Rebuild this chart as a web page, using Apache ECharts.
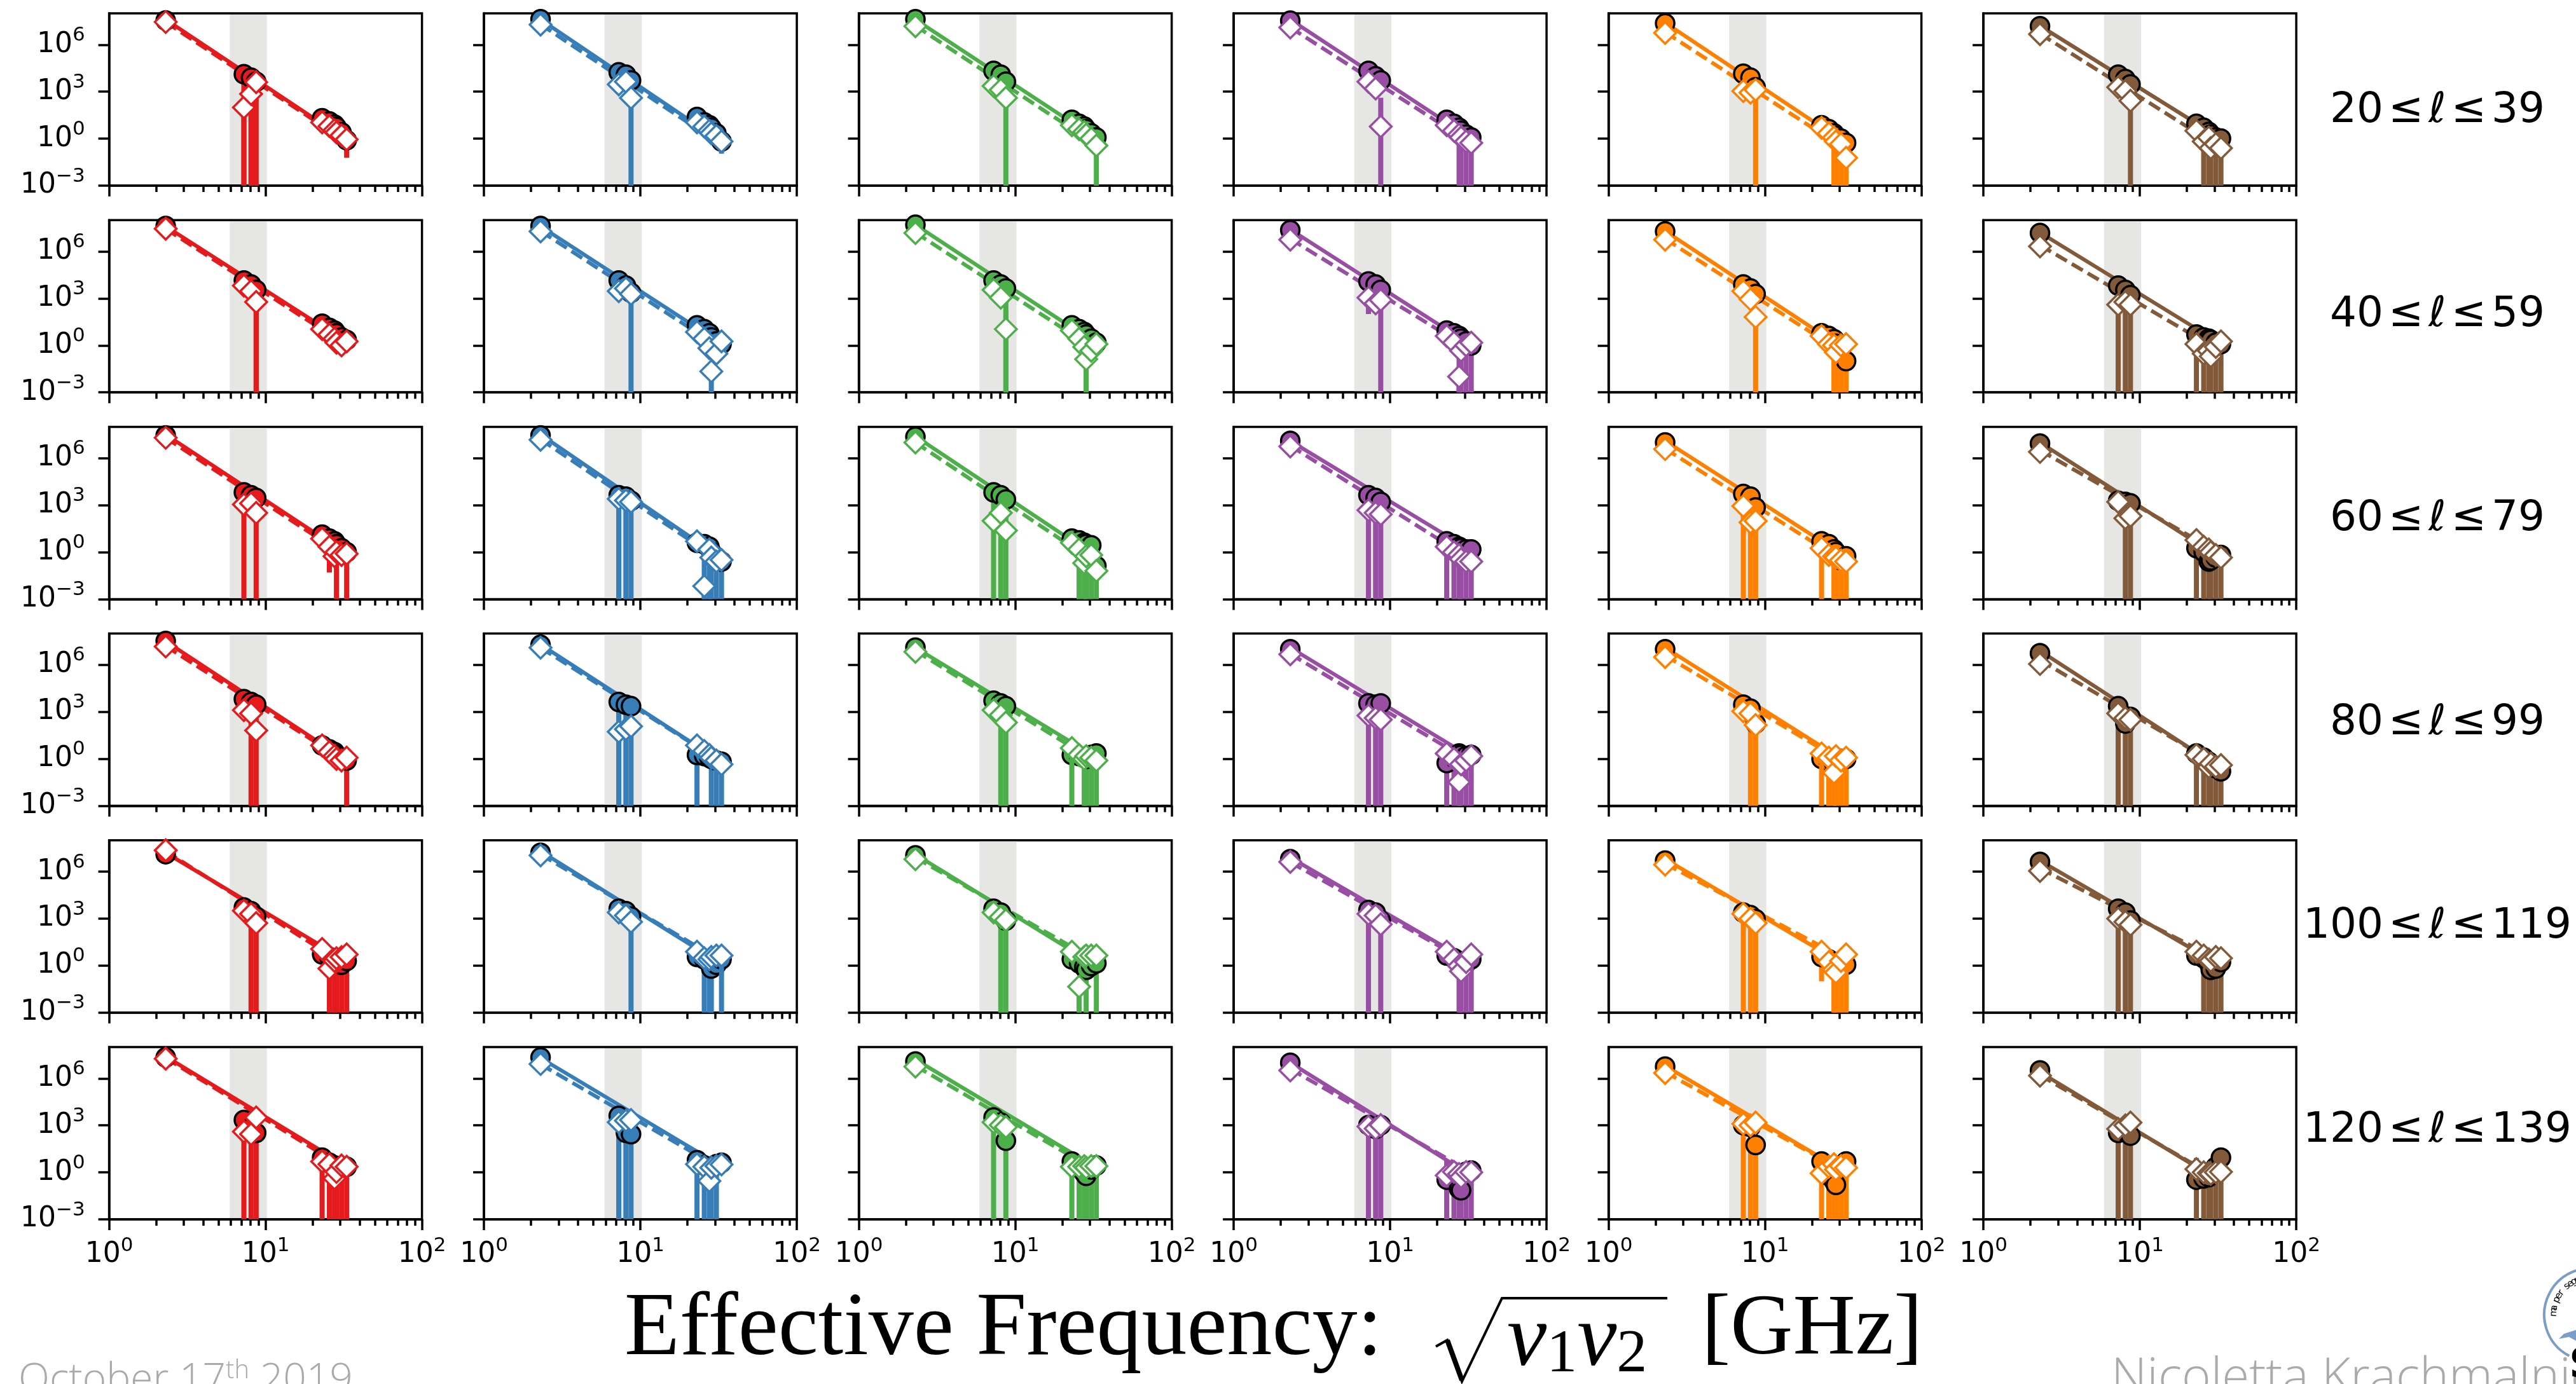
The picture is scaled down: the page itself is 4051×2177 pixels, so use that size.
<!DOCTYPE html>
<html>
<head>
<meta charset="utf-8">
<script src="https://cdn.jsdelivr.net/npm/echarts@6/dist/echarts.min.js"></script>
<style>
  html, body { margin: 0; padding: 0; background: #fff; }
  #chart { width: 4051px; height: 2177px; }
</style>
</head>
<body>
<div id="chart"></div>
<script>
// Effective frequencies sqrt(nu1*nu2) [GHz] of the ten cross-spectra in every panel
const effFreq = [2.3, 7.27, 8.08, 8.71, 23, 25.6, 27.6, 28.4, 30.6, 33];
// End points of the power-law fit lines
const fitFreq = [2.3, 33];
// Shaded frequency interval
const bandRange = [5.9, 10.2];
const xRange = [1, 100];
const yRange = [1e-3, 1e8];
const xMajorTicks = [1, 10, 100];
const xMajorExp = ['0', '1', '2'];
const xMinorTicks = [2, 3, 4, 5, 6, 7, 8, 9, 20, 30, 40, 50, 60, 70, 80, 90];
const yMajorTicks = [1e-3, 1, 1e3, 1e6];
const yMajorExp = ['\u22123', '0', '3', '6'];
const columnColors = ['#e41a1c', '#377eb8', '#4daf4a', '#984ea3', '#ff7f00', '#825a3a'];
const binEdges = [['20', '39'], ['40', '59'], ['60', '79'], ['80', '99'], ['100', '119'], ['120', '139']];

// ---- 20 <= l <= 39 : one list per column -------------------------------
const obs20 = [
  [3.5e7, 1.3e4, 7.8e3, 4.3e3, 20, 12.6, 7.9, 5.6, 2.5, 0.79],
  [4.2e7, 1.7e4, 1.2e4, 5.2e3, 24, 11, 7.2, 4.9, 2.2, 0.66],
  [4.2e7, 2.1e4, 1.2e4, 4.3e3, 16, 8.9, 5.9, 4.0, 2.2, 1.2],
  [3.4e7, 2.1e4, 9.5e3, 5.2e3, 16, 8.9, 4.9, 3.2, 1.8, 1.2],
  [2.3e7, 1.4e4, 7.8e3, 1.9e3, 7.2, 4.0, 2.2, 1.5, 1.0, 0.54],
  [1.5e7, 1.2e4, 6.5e3, 2.9e3, 8.9, 4.9, 2.7, 1.8, 1.2, 1.0]
];
const sim20 = [
  [2.8e7, 98, 710, 4.0e3, 11, 6.3, 3.5, 2.5, 1.6, 0.89],
  [1.9e7, 2.9e3, 4.3e3, 400, 11, 5.9, 3.2, 2.2, 1.5, 0.66],
  [1.5e7, 2.3e3, 1.3e3, 400, 7.2, 4.0, 2.7, 1.8, 1.0, 0.36],
  [1.26e7, 4.3e3, 1.6e3, 5.9, 7.2, 3.2, 1.8, 1.2, 0.66, 0.54],
  [5.6e6, 1.1e3, 870, 1.3e3, 4.9, 2.2, 1.2, 0.66, 0.45, 0.06],
  [4.7e6, 1.9e3, 1.1e3, 260, 3.2, 0.66, 1.2, 0.25, 0.45, 0.25]
];
const obsErr20 = [
  [0, 2.6e4, 1.6e4, 8.6e3, 0, 0, 0, 0, 0, 0.73],
  [0, 0, 0, 0, 0, 0, 0, 0, 0, 0.55],
  [0, 0, 0, 0, 0, 0, 0, 0, 0, 0],
  [0, 0, 0, 0, 0, 0, 9.8, 6.4, 3.6, 2.4],
  [0, 0, 0, 0, 0, 0, 4.4, 3.0, 2.0, 1.1],
  [0, 0, 0, 0, 0, 9.8, 5.4, 3.6, 2.4, 2.0]
];
const simErr20 = [
  [0, 200, 1.4e3, 0, 0, 0, 0, 0, 0, 0],
  [0, 0, 0, 800, 0, 0, 0, 0, 0, 0],
  [0, 0, 0, 800, 0, 0, 0, 0, 0, 0.7],
  [0, 0, 0, 400, 0, 0, 0, 0, 0, 0],
  [0, 0, 0, 2.6e3, 0, 0, 0, 0, 0, 0],
  [0, 0, 0, 520, 0, 0, 0, 0, 0, 0]
];
const obsFit20 = [[4.0e7, 0.79], [4.0e7, 0.63], [4.0e7, 1.0], [4.0e7, 1.0], [2.5e7, 0.5], [1.6e7, 1.0]];
const simFit20 = [[2.8e7, 0.63], [2.0e7, 0.4], [1.6e7, 0.4], [1.26e7, 0.5], [6.3e6, 0.2], [5.0e6, 0.25]];

// ---- 40 <= l <= 59 -------------------------------------------------------
const obs40 = [
  [4.2e7, 1.4e4, 7.8e3, 3.5e3, 24, 13, 8.9, 5.9, 3.2, 2.2],
  [4.2e7, 1.4e4, 6.5e3, 2.3e3, 19, 11, 5.9, 3.2, 1.8, 1.2],
  [5.0e7, 1.4e4, 7.8e3, 4.3e3, 19, 11, 7.2, 4.9, 2.7, 1.5],
  [2.3e7, 1.2e4, 7.8e3, 3.5e3, 8.9, 5.9, 4.0, 2.7, 1.8, 1.0],
  [1.9e7, 7.8e3, 4.3e3, 1.9e3, 5.9, 4.0, 2.5, 1.26, 0.32, 0.1],
  [1.5e7, 6.5e3, 3.5e3, 1.6e3, 4.9, 3.2, 2.7, 2.2, 1.5, 1.2]
];
const sim40 = [
  [2.8e7, 6.5e3, 2.9e3, 590, 11, 4.9, 2.7, 1.5, 1.0, 1.8],
  [1.9e7, 2.9e3, 4.3e3, 1.9e3, 7.2, 2.7, 0.66, 0.022, 0.3, 1.8],
  [1.5e7, 3.5e3, 1.1e3, 11, 8.9, 2.7, 0.79, 0.13, 0.45, 1.2],
  [5.6e6, 1.1e3, 480, 790, 4.0, 1.5, 0.01, 0.45, 1.0, 1.5],
  [5.6e6, 2.9e3, 870, 65, 4.0, 1.2, 1.0, 0.36, 1.0, 1.2],
  [2.1e6, 400, 590, 400, 1.2, 0.3, 0.45, 0.2, 0.79, 1.8]
];
const obsErr40 = [
  [0, 0, 0, 7e3, 0, 0, 0, 0, 0, 0],
  [0, 0, 0, 4.6e3, 0, 0, 0, 0, 0, 0],
  [0, 0, 0, 8.6e3, 0, 0, 0, 9.8, 0, 0],
  [0, 1.19e4, 0, 7e3, 0, 0, 8, 5.4, 3.6, 2],
  [0, 0, 0, 0, 0, 0, 5, 2.5, 0.64, 0.2],
  [0, 1.3e4, 7e3, 3.2e3, 0, 6.4, 5.4, 4.4, 3, 2.4]
];
const simErr40 = [
  [0, 0, 0, 1.2e3, 0, 0, 0, 0, 0, 0],
  [0, 0, 0, 0, 0, 0, 0, 0.05, 0, 0],
  [0, 0, 0, 180, 0, 0, 0, 0.26, 0, 0],
  [0, 0, 0, 0, 0, 0, 0.02, 0, 0, 0],
  [0, 0, 0, 130, 0, 0, 0, 0, 0, 0],
  [0, 0, 0, 0, 2.4, 0, 0, 0, 0, 0]
];
const obsFit40 = [[4.0e7, 1.6], [4.0e7, 1.26], [5.0e7, 1.26], [2.5e7, 1.0], [2.0e7, 0.5], [1.6e7, 1.26]];
const simFit40 = [[2.8e7, 1.0], [2.0e7, 0.63], [1.6e7, 0.5], [6.3e6, 0.5], [6.3e6, 0.25], [2.5e6, 0.4]];

// ---- 60 <= l <= 79 -------------------------------------------------------
const obs60 = [
  [2.8e7, 6.5e3, 4.3e3, 2.9e3, 13, 7.2, 4.9, 3.2, 1.8, 1.0],
  [2.8e7, 4.3e3, 3.5e3, 1.9e3, 4.0, 3.2, 2.2, 1.0, 0.3, 0.25],
  [2.3e7, 6.5e3, 4.3e3, 2.3e3, 7.2, 5.6, 4.0, 3.2, 2.7, 0.13],
  [1.26e7, 4.3e3, 2.9e3, 1.6e3, 4.9, 3.2, 2.2, 1.8, 1.5, 1.5],
  [1.0e7, 5.2e3, 3.5e3, 710, 4.9, 3.2, 1.5, 1.0, 0.3, 0.54],
  [8.5e6, 1.9e3, 1.6e3, 1.3e3, 1.8, 1.0, 0.25, 0.3, 0.45, 0.66]
];
const sim60 = [
  [2.0e7, 1.1e3, 1.3e3, 320, 7.2, 2.2, 0.54, 1.0, 0.66, 0.79],
  [1.5e7, 2.5e3, 2.0e3, 1.6e3, 4.9, 0.0068, 1.5, 0.45, 0.25, 0.32],
  [1.0e7, 100, 320, 24, 4.0, 1.5, 0.2, 0.54, 0.66, 0.063],
  [5.6e6, 480, 320, 260, 2.2, 1.0, 0.66, 0.36, 0.25, 0.25],
  [3.8e6, 870, 79, 98, 1.8, 0.66, 0.54, 0.45, 0.3, 0.25],
  [2.5e6, 1.6e3, 145, 200, 5.9, 2.2, 1.5, 1.0, 0.66, 0.45]
];
const obsErr60 = [
  [0, 1.3e4, 0, 5.8e3, 0, 7.15, 0, 6.4, 0, 2],
  [0, 8.6e3, 7e3, 3.8e3, 0, 6.4, 4.4, 2, 0.6, 0.5],
  [0, 1.3e4, 8.6e3, 4.6e3, 0, 11, 8, 6.4, 5.4, 0.26],
  [0, 8.6e3, 5.8e3, 3.2e3, 9.8, 6.4, 4.4, 3.6, 3, 3],
  [0, 1e4, 7e3, 1.4e3, 9.8, 0, 3, 2, 0.6, 1.1],
  [0, 0, 3.2e3, 2.6e3, 3.6, 2, 0.5, 0.6, 0.9, 1.3]
];
const simErr60 = [
  [0, 0, 0, 0, 0, 0, 0, 0, 0, 0],
  [0, 0, 0, 0, 0, 0.014, 0, 0, 0, 0],
  [0, 0, 0, 0, 0, 0, 0, 0, 0, 0],
  [0, 0, 0, 0, 0, 0, 0, 0, 0, 0],
  [0, 0, 0, 0, 0, 0, 0, 0, 0, 0],
  [0, 0, 0, 0, 0, 0, 0, 0, 0, 0]
];
const obsFit60 = [[3.2e7, 0.79], [3.2e7, 0.4], [2.5e7, 0.5], [1.26e7, 1.26], [1.26e7, 0.5], [1.0e7, 0.4]];
const simFit60 = [[2.0e7, 0.5], [1.6e7, 0.25], [1.0e7, 0.2], [6.3e6, 0.32], [4.0e6, 0.2], [3.2e6, 0.79]];

// ---- 80 <= l <= 99 -------------------------------------------------------
const obs80 = [
  [3.4e7, 6.5e3, 4.3e3, 2.9e3, 7.2, 4.0, 2.7, 1.8, 1.2, 0.79],
  [1.9e7, 4.3e3, 2.9e3, 2.3e3, 1.8, 1.5, 1.2, 1.0, 0.79, 0.66],
  [1.26e7, 5.2e3, 3.5e3, 2.3e3, 1.8, 1.5, 1.2, 1.0, 1.8, 2.2],
  [1.0e7, 3.5e3, 2.9e3, 3.5e3, 0.54, 1.2, 2.2, 1.8, 1.5, 1.8],
  [1.0e7, 2.9e3, 1.6e3, 180, 1.0, 0.66, 0.54, 0.79, 1.0, 1.0],
  [5.6e6, 2.3e3, 180, 480, 2.2, 1.2, 0.66, 0.36, 0.25, 0.16]
];
const sim80 = [
  [1.5e7, 1.3e3, 790, 65, 7.2, 2.7, 1.5, 1.0, 0.79, 1.2],
  [1.26e7, 54, 79, 120, 7.2, 3.2, 1.8, 1.2, 0.79, 0.45],
  [6.9e6, 1.3e3, 630, 210, 4.9, 1.8, 1.0, 1.5, 1.2, 0.79],
  [4.7e6, 590, 400, 320, 2.2, 1.0, 0.033, 0.45, 0.79, 1.5],
  [3.2e6, 1.1e3, 790, 145, 2.2, 1.2, 0.13, 1.5, 0.79, 1.2],
  [1.15e6, 790, 400, 320, 1.8, 1.0, 0.3, 0.5, 0.32, 0.4]
];
const obsErr80 = [
  [0, 0, 8.6e3, 5.8e3, 0, 0, 0, 0, 0, 1.6],
  [0, 8.6e3, 5.8e3, 4.6e3, 3.6, 0, 0, 2, 1.6, 1.3],
  [0, 0, 7e3, 4.6e3, 0, 0, 2.4, 2, 3.6, 4.4],
  [0, 7e3, 5.8e3, 7e3, 1.1, 2.4, 4.4, 3.6, 3, 3.6],
  [0, 0, 3.2e3, 360, 0, 1.3, 1.1, 1.6, 2, 2],
  [0, 4.6e3, 360, 960, 4.4, 2.4, 1.3, 0.72, 0.5, 0.32]
];
const simErr80 = [
  [0, 0, 0, 0, 0, 0, 0, 0, 0, 0],
  [0, 0, 0, 0, 0, 0, 0, 0, 0, 0],
  [0, 0, 0, 0, 9.8, 0, 0, 0, 0, 0],
  [0, 0, 0, 0, 0, 0, 0.066, 0, 0, 0],
  [0, 0, 0, 0, 4.4, 0, 0, 0, 0, 0],
  [0, 0, 0, 0, 0, 0, 0, 0, 0, 0]
];
const obsFit80 = [[3.2e7, 0.79], [2.0e7, 0.63], [1.26e7, 1.26], [1.26e7, 1.26], [1.26e7, 0.63], [7.9e6, 0.25]];
const simFit80 = [[1.6e7, 0.63], [1.26e7, 0.63], [7.9e6, 0.63], [5.0e6, 0.63], [4.0e6, 0.5], [2.0e6, 0.32]];

// ---- 100 <= l <= 119 -----------------------------------------------------
const obs100 = [
  [1.3e7, 5.1e3, 3.0e3, 1.35e3, 5.2, 3.6, 2.5, 1.7, 1.15, 2.0],
  [1.6e7, 4.3e3, 3.0e3, 1.35e3, 3.6, 2.5, 1.4, 0.65, 1.15, 2.5],
  [1.1e7, 4.3e3, 2.4e3, 760, 2.5, 1.4, 0.78, 0.54, 0.95, 1.4],
  [6.2e6, 3.5e3, 2.4e3, 760, 4.4, 2.95, 2.0, 1.7, 1.4, 2.5],
  [5.0e6, 2.4e3, 1.66e3, 930, 3.6, 2.5, 0.78, 0.65, 1.4, 1.15],
  [4.2e6, 4.3e3, 2.4e3, 760, 4.4, 2.95, 1.4, 0.54, 0.65, 1.7]
];
const sim100 = [
  [2.3e7, 3.2e3, 2.0e3, 520, 11.5, 0.65, 2.0, 2.95, 3.5, 5.2],
  [1.1e7, 2.5e3, 1.6e3, 630, 7.8, 2.95, 2.5, 3.6, 4.4, 4.4],
  [6.2e6, 2.5e3, 1.26e3, 790, 7.8, 0.045, 3.6, 4.4, 4.4, 4.4],
  [4.2e6, 2.0e3, 1.6e3, 430, 7.8, 2.5, 0.95, 0.44, 1.7, 5.2],
  [2.8e6, 2.0e3, 1.0e3, 520, 7.8, 1.7, 0.54, 0.36, 2.0, 5.2],
  [1.1e6, 1.0e3, 630, 400, 7.8, 4.4, 2.5, 2.0, 3.6, 2.95]
];
const obsErr100 = [
  [0, 0, 6e3, 2.7e3, 0, 7.2, 5, 3.4, 2.3, 4],
  [0, 0, 0, 0, 0, 5, 2.8, 1.3, 0, 0],
  [0, 0, 4.8e3, 1.5e3, 0, 0, 0, 1.1, 0, 2.8],
  [0, 0, 0, 0, 0, 0, 4, 3.4, 2.8, 0],
  [0, 4.8e3, 3.3e3, 1.9e3, 3.5, 0, 1.6, 1.3, 2.8, 0],
  [0, 8.6e3, 4.8e3, 1.5e3, 0, 5.9, 2.8, 1.1, 1.3, 3.4]
];
const simErr100 = [
  [0, 0, 0, 0, 0, 0, 0, 0, 0, 0],
  [0, 0, 0, 1.3e3, 0, 0, 0, 0, 0, 8.8],
  [0, 0, 0, 0, 0, 0.09, 0, 0, 0, 0],
  [0, 4e3, 0, 860, 0, 0, 0, 0, 0, 10],
  [0, 0, 0, 0, 0, 0, 0, 0, 0, 10.4],
  [0, 0, 0, 0, 0, 0, 0, 0, 0, 0]
];
const obsFit100 = [[1.6e7, 2.0], [2.0e7, 1.26], [1.26e7, 1.0], [7.9e6, 1.6], [6.3e6, 1.0], [5.0e6, 1.0]];
const simFit100 = [[2.0e7, 1.0], [1.26e7, 2.0], [7.9e6, 2.0], [4.0e6, 1.26], [3.2e6, 2.5], [1.6e6, 2.0]];

// ---- 120 <= l <= 139 -----------------------------------------------------
const obs120 = [
  [2.2e7, 2.2e3, 710, 330, 8.7, 4.1, 2.75, 2.3, 1.9, 2.3],
  [2.2e7, 4.0e3, 330, 275, 5.9, 2.75, 1.55, 2.3, 3.3, 4.1],
  [1.2e7, 3.2e3, 1.5e3, 105, 4.9, 1.9, 0.87, 0.6, 1.55, 2.75],
  [1.0e7, 1.05e3, 590, 1.05e3, 0.34, 0.72, 0.089, 0.072, 1.07, 1.29],
  [5.6e6, 1.05e3, 790, 56, 4.9, 0.6, 0.28, 0.16, 2.0, 4.9],
  [3.2e6, 330, 400, 220, 0.34, 0.41, 0.5, 1.07, 2.3, 8.7]
];
const sim120 = [
  [1.8e7, 400, 275, 3.2e3, 4.9, 3.3, 0.41, 1.07, 2.75, 2.3],
  [8.3e6, 1.6e3, 2.0e3, 2.2e3, 3.3, 2.3, 0.28, 2.0, 2.5, 3.2],
  [5.6e6, 1.6e3, 1.05e3, 790, 2.3, 2.3, 2.5, 2.0, 2.5, 2.5],
  [3.2e6, 850, 630, 1.05e3, 0.63, 1.07, 0.79, 0.5, 1.07, 1.0],
  [2.2e6, 1.26e3, 1.0e3, 1.5e3, 0.87, 2.3, 3.3, 1.55, 2.5, 2.0],
  [1.5e6, 590, 1.0e3, 1.5e3, 1.6, 1.0, 0.9, 0.8, 1.0, 1.07]
];
const obsErr120 = [
  [0, 4.4e3, 1.4e3, 660, 17, 8.2, 5.5, 4.6, 3.8, 4.6],
  [0, 8e3, 660, 550, 12, 5.5, 3.1, 4.6, 6.6, 0],
  [0, 6.4e3, 0, 210, 9.8, 3.8, 1.7, 1.2, 3.1, 5.5],
  [0, 2.1e3, 1.2e3, 2.1e3, 5.5, 1.4, 0.18, 0.14, 2.1, 2.6],
  [0, 2.1e3, 1.6e3, 110, 9.8, 1.2, 0.56, 0.32, 4, 9.8],
  [0, 660, 800, 440, 8, 0.8, 1, 2.1, 4.6, 17]
];
const simErr120 = [
  [0, 0, 0, 0, 0, 0, 0, 0, 0, 0],
  [0, 0, 0, 0, 0, 0, 0, 0, 0, 0],
  [0, 0, 0, 0, 0, 0, 0, 0, 0, 0],
  [0, 0, 0, 0, 0, 0, 0, 0, 0, 0],
  [0, 0, 0, 0, 0, 0, 0, 0, 0, 0],
  [0, 0, 0, 0, 0, 0, 0, 0, 0, 0]
];
const obsFit120 = [[2.5e7, 2.5], [2.0e7, 2.5], [1.6e7, 2.0], [1.0e7, 0.63], [6.3e6, 1.0], [2.5e6, 0.25]];
const simFit120 = [[2.0e7, 1.6], [7.9e6, 1.6], [6.3e6, 1.26], [4.0e6, 1.0], [2.5e6, 1.0], [1.6e6, 0.32]];

const rows = [
  { obs: obs20, sim: sim20, obsErr: obsErr20, simErr: simErr20, obsFit: obsFit20, simFit: simFit20 },
  { obs: obs40, sim: sim40, obsErr: obsErr40, simErr: simErr40, obsFit: obsFit40, simFit: simFit40 },
  { obs: obs60, sim: sim60, obsErr: obsErr60, simErr: simErr60, obsFit: obsFit60, simFit: simFit60 },
  { obs: obs80, sim: sim80, obsErr: obsErr80, simErr: simErr80, obsFit: obsFit80, simFit: simFit80 },
  { obs: obs100, sim: sim100, obsErr: obsErr100, simErr: simErr100, obsFit: obsFit100, simFit: simFit100 },
  { obs: obs120, sim: sim120, obsErr: obsErr120, simErr: simErr120, obsFit: obsFit120, simFit: simFit120 }
];

// ---- layout ---------------------------------------------------------------
const LEFT0 = 171.6, COL_STEP = 589.5, PANEL_W = 492;
const TOP0 = 21, ROW_STEP = 325.2, PANEL_H = 271;
const SPINE = 3.5, ERR_W = 8;
const FONT = 'DejaVu Sans';

const tickRich = {
  b: { fontFamily: FONT, fontSize: 44, color: '#000', lineHeight: 60 },
  s: { fontFamily: FONT, fontSize: 31, color: '#000', lineHeight: 31, verticalAlign: 'top' }
};
function powLabel(v, ticks, exps) {
  const i = ticks.findIndex(t => Math.abs(Math.log10(v / t)) < 1e-6);
  return i < 0 ? '' : '{b|10}{s|' + exps[i] + '}';
}

function errorBar(color) {
  return function (params, api) {
    const x = api.value(0), y = api.value(1), s = api.value(2);
    const hi = Math.min(y + s, yRange[1]);
    const lo = (y - s) > yRange[0] ? (y - s) : yRange[0];
    const a = api.coord([x, hi]);
    const b = api.coord([x, lo]);
    return {
      type: 'rect',
      shape: { x: a[0] - ERR_W / 2, y: a[1], width: ERR_W, height: b[1] - a[1] },
      style: { fill: color }
    };
  };
}

const grids = [], xAxes = [], yAxes = [], series = [];
const lineStyleAxis = { color: '#000', width: SPINE };

rows.forEach((row, r) => {
  for (let c = 0; c < 6; c++) {
    const gi = r * 6 + c;
    const color = columnColors[c];
    grids.push({
      left: LEFT0 + c * COL_STEP, top: TOP0 + r * ROW_STEP,
      width: PANEL_W, height: PANEL_H,
      show: true, borderColor: '#000', borderWidth: SPINE, backgroundColor: 'transparent'
    });
    // major ticks and labels
    xAxes.push({
      gridIndex: gi, type: 'log', logBase: 10, min: xRange[0], max: xRange[1], position: 'bottom',
      axisLine: { show: true, onZero: false, lineStyle: lineStyleAxis },
      axisTick: { show: true, inside: false, length: 17, customValues: xMajorTicks, lineStyle: lineStyleAxis },
      axisLabel: {
        show: r === 5, customValues: xMajorTicks, margin: 26,
        formatter: v => powLabel(v, xMajorTicks, xMajorExp), rich: tickRich
      },
      splitLine: { show: false }, minorTick: { show: false }
    });
    // minor ticks
    xAxes.push({
      gridIndex: gi, type: 'log', logBase: 10, min: xRange[0], max: xRange[1], position: 'bottom',
      axisLine: { show: false, onZero: false },
      axisTick: { show: true, inside: false, length: 10, customValues: xMinorTicks, lineStyle: lineStyleAxis },
      axisLabel: { show: false },
      splitLine: { show: false }, minorTick: { show: false }
    });
    yAxes.push({
      gridIndex: gi, type: 'log', logBase: 10, min: yRange[0], max: yRange[1], position: 'left',
      axisLine: { show: true, onZero: false, lineStyle: lineStyleAxis },
      axisTick: { show: true, inside: false, length: 17, customValues: yMajorTicks, lineStyle: lineStyleAxis },
      axisLabel: {
        show: c === 0, customValues: yMajorTicks, margin: 38,
        formatter: v => powLabel(v, yMajorTicks, yMajorExp), rich: tickRich
      },
      splitLine: { show: false }, minorTick: { show: false }
    });

    const xi = gi * 2, yi = gi;
    const common = { xAxisIndex: xi, yAxisIndex: yi, silent: true, animation: false };

    // shaded frequency interval
    series.push(Object.assign({
      type: 'custom', z: 1,
      data: [[bandRange[0], bandRange[1]]],
      encode: { x: 0, y: 1 },
      renderItem: function (params, api) {
        const a = api.coord([api.value(0), yRange[1]]);
        const b = api.coord([api.value(1), yRange[0]]);
        return {
          type: 'rect',
          shape: { x: a[0], y: a[1] + 2, width: b[0] - a[0], height: b[1] - a[1] - 4 },
          style: { fill: '#e6e6e4' }
        };
      }
    }, common));

    // power-law fits
    series.push(Object.assign({
      type: 'line', z: 2, symbol: 'none', showSymbol: false,
      data: fitFreq.map((f, k) => [f, row.obsFit[c][k]]),
      lineStyle: { color: color, width: 6 }
    }, common));
    series.push(Object.assign({
      type: 'line', z: 2, symbol: 'none', showSymbol: false,
      data: fitFreq.map((f, k) => [f, row.simFit[c][k]]),
      lineStyle: { color: color, width: 6, type: [20, 9] }
    }, common));

    // error bars of the filled points
    series.push(Object.assign({
      type: 'custom', z: 3,
      data: effFreq.map((f, k) => [f, row.obs[c][k], row.obsErr[c][k]]).filter(d => d[2] > 0),
      encode: { x: 0, y: 1 },
      renderItem: errorBar(color)
    }, common));
    // filled points
    series.push(Object.assign({
      type: 'scatter', z: 4, symbol: 'circle', symbolSize: 29,
      data: effFreq.map((f, k) => [f, row.obs[c][k]]),
      itemStyle: { color: color, borderColor: '#000', borderWidth: 3.5, opacity: 1 }
    }, common));
    // error bars of the open points
    series.push(Object.assign({
      type: 'custom', z: 5,
      data: effFreq.map((f, k) => [f, row.sim[c][k], row.simErr[c][k]]).filter(d => d[2] > 0),
      encode: { x: 0, y: 1 },
      renderItem: errorBar(color)
    }, common));
    // open diamonds
    series.push(Object.assign({
      type: 'scatter', z: 6, symbol: 'diamond', symbolSize: 34,
      data: effFreq.map((f, k) => [f, row.sim[c][k]]),
      itemStyle: { color: '#fff', borderColor: color, borderWidth: 3.5, opacity: 1 }
    }, common));
  }
});

// ---- text and decorations -------------------------------------------------
const graphics = [];
binEdges.forEach((e, r) => {
  graphics.push({
    type: 'text', x: 3833, y: 175 + r * 320.8, silent: true,
    style: {
      text: '{t|' + e[0] + '}{sp| }{t|\u2264}{sp| }{t|\u2113}{sp| }{t|\u2264}{sp| }{t|' + e[1] + '}',
      rich: {
        t: { fontFamily: FONT, fontSize: 66, fill: '#000', color: '#000' },
        sp: { width: 8, fontSize: 66 }
      },
      align: 'center', verticalAlign: 'middle', textAlign: 'center', textVerticalAlign: 'middle'
    }
  });
});

// common x-axis title
const SERIF = 'Liberation Serif';
graphics.push({
  type: 'text', x: 982, y: 2093, silent: true,
  style: {
    text: 'Effective Frequency:', font: '142px "' + SERIF + '"', fill: '#000',
    align: 'left', verticalAlign: 'middle', textAlign: 'left', textVerticalAlign: 'middle'
  }
});
graphics.push({
  type: 'polyline', silent: true,
  shape: { points: [[2258, 2118], [2276, 2108], [2299, 2173], [2362, 2042], [2622, 2042]] },
  style: { stroke: '#000', lineWidth: 4, fill: null, lineJoin: 'miter' }
});
graphics.push({
  type: 'polyline', silent: true,
  shape: { points: [[2276, 2108], [2299, 2171]] },
  style: { stroke: '#000', lineWidth: 8, fill: null }
});
graphics.push({
  type: 'text', x: 2370, y: 2110, silent: true,
  style: {
    text: '{v|\u03bd}{s|1}{v|\u03bd}{s|2}',
    rich: {
      v: { fontFamily: SERIF, fontStyle: 'italic', fontSize: 140, fill: '#000', lineHeight: 140 },
      s: { fontFamily: SERIF, fontSize: 96, fill: '#000', lineHeight: 96, verticalAlign: 'bottom' }
    },
    align: 'left', verticalAlign: 'middle', textAlign: 'left', textVerticalAlign: 'middle'
  }
});
graphics.push({
  type: 'text', x: 2676, y: 2093, silent: true,
  style: {
    text: '[GHz]', font: '136px "' + SERIF + '"', fill: '#000',
    align: 'left', verticalAlign: 'middle', textAlign: 'left', textVerticalAlign: 'middle'
  }
});

// footer
graphics.push({
  type: 'text', x: 29, y: 2172, silent: true,
  style: {
    text: '{a|October 17}{s|th}{a| 2019}',
    rich: {
      a: { fontFamily: 'Open Sans', fontWeight: 300, fontSize: 64, fill: '#aaaaaa', lineHeight: 70 },
      s: { fontFamily: 'Open Sans', fontWeight: 300, fontSize: 40, fill: '#aaaaaa', lineHeight: 70, verticalAlign: 'top' }
    },
    align: 'left', verticalAlign: 'middle', textAlign: 'left', textVerticalAlign: 'middle'
  }
});
graphics.push({
  type: 'text', x: 3320, y: 2169, silent: true,
  style: {
    text: 'Nicoletta Krachmalnicoff', font: '300 78px "Open Sans"', fill: '#aaaaaa',
    align: 'left', verticalAlign: 'middle', textAlign: 'left', textVerticalAlign: 'middle'
  }
});

// institute seal in the corner
const SEAL = { cx: 4074, cy: 2068, r: 73 };
graphics.push({
  type: 'arc', silent: true,
  shape: { cx: SEAL.cx, cy: SEAL.cy, r: SEAL.r, startAngle: 2.05, endAngle: 5.2, clockwise: true },
  style: { stroke: '#7b9dc9', lineWidth: 4, fill: null }
});
const motto = 'ma per seguir';
for (let i = 0; i < motto.length; i++) {
  const th = (184 + i * 6.6) * Math.PI / 180;
  graphics.push({
    type: 'text', silent: true,
    x: SEAL.cx + 58 * Math.cos(th), y: SEAL.cy + 58 * Math.sin(th),
    rotation: 1.5 * Math.PI - th,
    style: {
      text: motto[i], font: '15px "' + FONT + '"', fill: '#000',
      align: 'center', verticalAlign: 'middle', textAlign: 'center', textVerticalAlign: 'middle'
    }
  });
}
graphics.push({
  type: 'polygon', silent: true,
  shape: { points: [[4051, 2092], [4032, 2098], [4024, 2106], [4040, 2103], [4051, 2109]] },
  style: { fill: '#7b9dc9' }
});
graphics.push({
  type: 'text', x: 4040, y: 2150, silent: true,
  style: {
    text: 'S', font: 'bold 66px "' + FONT + '"', fill: '#000',
    align: 'left', verticalAlign: 'middle', textAlign: 'left', textVerticalAlign: 'middle'
  }
});

const chart = echarts.init(document.getElementById('chart'), null, { renderer: 'canvas' });
chart.setOption({
  backgroundColor: '#ffffff',
  animation: false,
  textStyle: { fontFamily: FONT },
  grid: grids,
  xAxis: xAxes,
  yAxis: yAxes,
  series: series,
  graphic: graphics
});
</script>
</body>
</html>
